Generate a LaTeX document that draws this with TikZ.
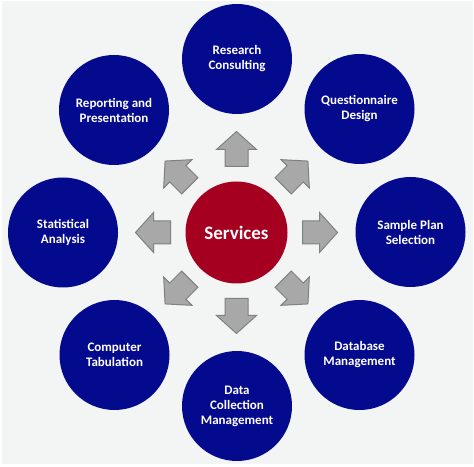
\documentclass[tikz,border=0pt]{standalone}
\usepackage{fontspec}
\setmainfont{Carlito}
\definecolor{bgc}{HTML}{F3F4F4}
\definecolor{navy}{RGB}{4,10,142}
\definecolor{svcred}{RGB}{166,0,32}
\definecolor{arrfill}{HTML}{A8A8A8}
\definecolor{arrline}{HTML}{808080}
\begin{document}
\begin{tikzpicture}[x=1pt,y=1pt,
  bubble/.style={circle,fill=navy,minimum size=110pt,inner sep=0pt,text=white,
    font=\fontsize{13}{15}\selectfont\bfseries,align=center},
  hub/.style={circle,fill=svcred,minimum size=102pt,inner sep=0pt,text=white,
    font=\fontsize{19}{22}\selectfont\bfseries},
  blockarrow/.style={fill=arrfill,draw=arrline,line width=1pt,line join=miter}]
\useasboundingbox (0,0) rectangle (474,466);
\fill[white] (0,0) rectangle (474,466);
\fill[bgc] (2,2) rectangle (473,465);
\node[hub] (svc) at (236.5,233.5) {Services};
\node[bubble] (research) at (237,407) {Research\\Consulting};
\node[bubble] (quest) at (359.5,357) {Questionnaire\\Design};
\node[bubble] (sample) at (410.5,234) {Sample Plan\\Selection};
\node[bubble] (dbm) at (359.5,111) {Database\\Management};
\node[bubble] (datacoll) at (237,60) {Data\\Collection\\Management};
\node[bubble] (comptab) at (114.5,111) {Computer\\Tabulation};
\node[bubble] (stat) at (63,233.5) {Statistical\\Analysis};
\node[bubble] (report) at (114,356) {Reporting and\\Presentation};
\foreach \a in {0,45,...,315}{
  \draw[blockarrow,shift={(svc.center)},rotate=\a]
    (66,-11.5) -- (83,-11.5) -- (83,-20) -- (101,0) -- (83,20) -- (83,11.5) -- (66,11.5) -- cycle;
}
\end{tikzpicture}
\end{document}
